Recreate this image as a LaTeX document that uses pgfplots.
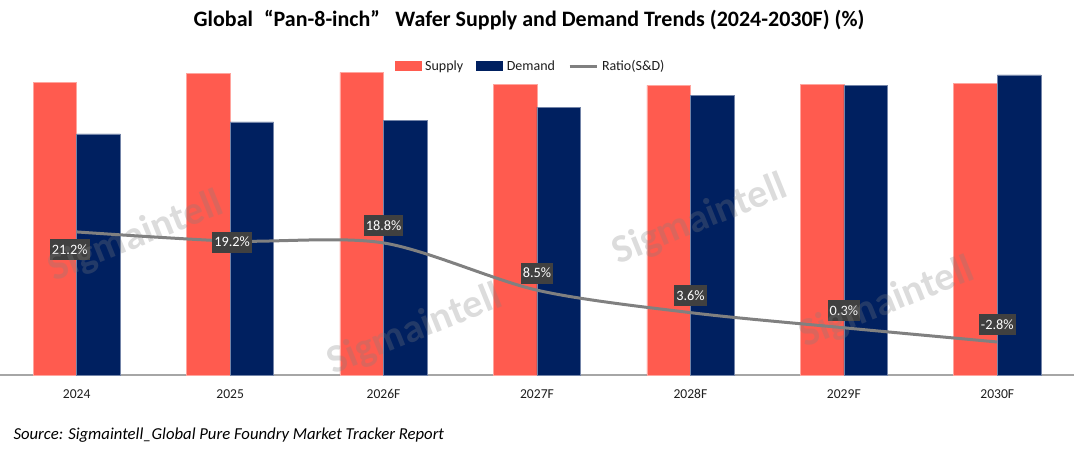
\documentclass[border=0pt]{standalone}
\usepackage{pgfplots}
\pgfplotsset{compat=1.18}
\usepackage{pgfplotstable}
\usepackage{fontspec}
\setmainfont{Carlito}

\definecolor{supplyred}{RGB}{255,91,79}
\definecolor{demandnavy}{RGB}{0,32,96}
\definecolor{ratiogray}{RGB}{128,128,128}
\definecolor{labelbox}{RGB}{64,64,64}
\definecolor{baseaxis}{RGB}{166,166,166}
\definecolor{ticktext}{RGB}{30,30,30}

% capacity index (supply) and demand, same scale
\pgfplotstableread{
x  supply demand
0  292.3  241.2
1  301.7  253.1
2  302.7  254.8
3  290.7  267.9
4  289.7  279.6
5  290.7  289.8
6  291.7  300.1
}\capacity

% supply/demand ratio in percent, with label offsets
\pgfplotstableread{
x  ratio  dx  dy
0  21.2   -7  -18
1  19.2    2   -1
2  18.8    0   17
3  8.5     0   17
4  3.6     0   17
5  0.3     0   17
6  -2.8    0   17
}\ratio

\newcommand{\tickfont}{\fontsize{13.6}{16}\selectfont}

\begin{document}
\begin{tikzpicture}[x=1pt,y=1pt]
\useasboundingbox (0,-76) rectangle (1080,375);

\begin{axis}[
  at={(0pt,0pt)}, anchor=south west,
  scale only axis, width=1074pt, height=321pt,
  xmin=-0.5, xmax=6.5, ymin=0, ymax=321,
  hide y axis,
  axis x line*=bottom,
  x axis line style={-, draw=baseaxis, line width=1.2pt},
  xtick={0,...,6},
  xticklabels={2024,2025,2026F,2027F,2028F,2029F,2030F},
  major tick length=0pt,
  xticklabel style={font=\tickfont, text=ticktext, anchor=center, yshift=-19pt},
  legend columns=3,
  legend style={at={(0.4935,0.9626)}, anchor=center, draw=none, fill=none,
    font=\fontsize{14}{16}\selectfont, inner sep=0pt,
    nodes={inner xsep=1pt, inner ysep=1pt, text=ticktext},
    /tikz/every odd column/.append style={column sep=3pt},
    /tikz/every even column/.append style={column sep=12pt}},
  ybar, bar width=43.6pt,
]
\addplot[fill=supplyred, draw=supplyred!55!white, line width=0.6pt, bar shift=-21.8pt,
  legend image code/.code={\fill[supplyred] (0pt,-4.5pt) rectangle (26pt,4.5pt);}]
  table[x=x, y=supply] {\capacity};
\addlegendentry{Supply}
\addplot[fill=demandnavy, draw=demandnavy!55!white, line width=0.6pt, bar shift=21.8pt,
  legend image code/.code={\fill[demandnavy] (0pt,-4.5pt) rectangle (26pt,4.5pt);}]
  table[x=x, y=demand] {\capacity};
\addlegendentry{Demand}
\addlegendimage{legend image code/.code={\draw[ratiogray, line width=3pt] (0pt,0pt) -- (27pt,0pt);}}
\addlegendentry{Ratio(S\&D)}
\end{axis}

\begin{axis}[
  at={(0pt,0pt)}, anchor=south west,
  scale only axis, width=1074pt, height=321pt,
  xmin=-0.5, xmax=6.5, ymin=-10, ymax=60,
  hide axis,
]
\addplot[ratiogray, line width=3pt, smooth, tension=0.5, mark=none,
  point meta=explicit symbolic,
  visualization depends on={\thisrow{dx} \as \dx},
  visualization depends on={\thisrow{dy} \as \dy},
  nodes near coords={\pgfplotspointmeta\%},
  every node near coord/.style={anchor=center, xshift=\dx pt, yshift=\dy pt,
    fill=labelbox, text=white, font=\fontsize{14.3}{16}\selectfont,
    inner xsep=2pt, inner ysep=0pt, minimum height=21pt},
] table[x=x, y=ratio, meta=ratio] {\ratio};
\end{axis}

% watermarks
\begin{scope}[every node/.style={rotate=22, text=black!50, opacity=0.28,
    font=\bfseries\fontsize{40}{44}\selectfont}]
  \node at (136,138) {Sigmaintell};
  \node at (415,45) {Sigmaintell};
  \node at (700,155) {Sigmaintell};
  \node at (887,72) {Sigmaintell};
\end{scope}

% title
\node[font=\bfseries\fontsize{22}{26}\selectfont, text=black] at (529,355)
  {Global\hspace{0.5em}“Pan-8-inch”\hspace{0.7em}Wafer Supply and Demand Trends (2024-2030F) (\%)};

% source line
\node[anchor=west, font=\itshape\fontsize{16.7}{20}\selectfont, text=black] at (10,-60)
  {Source: Sigmaintell\_Global Pure Foundry Market Tracker Report};
\end{tikzpicture}
\end{document}
